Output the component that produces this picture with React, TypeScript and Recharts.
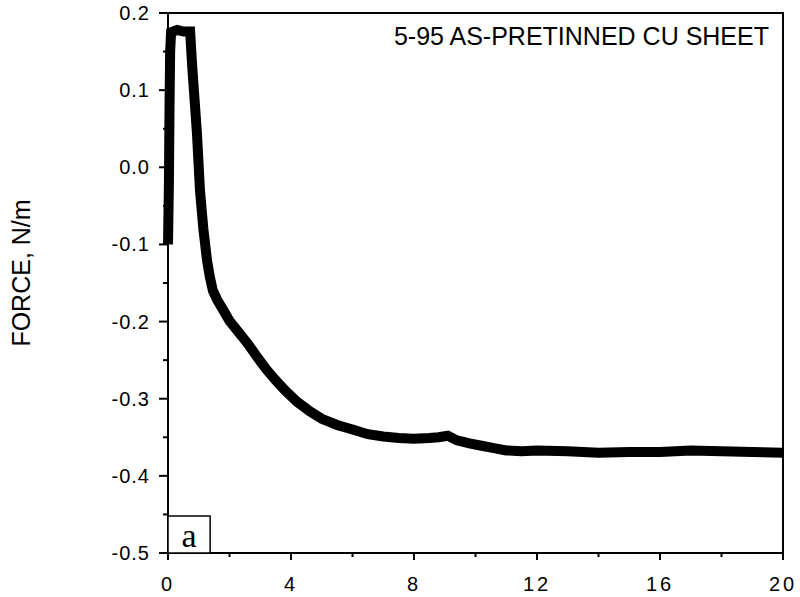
import { LineChart, Line, XAxis, YAxis, ReferenceArea } from "recharts";

const TIME = [
  0, 0.03, 0.05, 0.07, 0.1, 0.3, 0.5, 0.72, 0.78, 0.86, 0.94, 1.04, 1.15, 1.27, 1.36, 1.46,
  1.6, 1.75, 2.0, 2.3, 2.6, 2.9, 3.2, 3.5, 3.8, 4.2, 4.6, 5.0, 5.5, 6.0, 6.5, 7.0, 7.5, 8.0,
  8.5, 8.8, 9.1, 9.4, 9.8, 10.2, 10.6, 11.0, 11.5, 12, 13, 14, 15, 16, 17, 18, 19, 20,
];
const FORCE = [
  -0.1, -0.02, 0.08, 0.15, 0.175, 0.178, 0.176, 0.176, 0.135, 0.09, 0.045, -0.03, -0.08, -0.121, -0.142, -0.16,
  -0.172, -0.182, -0.199, -0.214, -0.229, -0.246, -0.262, -0.276, -0.289, -0.304, -0.316, -0.326, -0.334, -0.34, -0.346, -0.349, -0.351, -0.352,
  -0.351, -0.35, -0.348, -0.354, -0.358, -0.361, -0.364, -0.367, -0.368, -0.367, -0.368, -0.37, -0.369, -0.369, -0.367, -0.368, -0.369, -0.37,
];
const X_TICKS = [0, 2, 4, 6, 8, 10, 12, 14, 16, 18, 20];
const Y_TICKS = [-0.5, -0.45, -0.4, -0.35, -0.3, -0.25, -0.2, -0.15, -0.1, -0.05, 0, 0.05, 0.1, 0.15, 0.2];
const TITLE = "5-95 AS-PRETINNED CU SHEET";
const Y_LABEL = "FORCE, N/m";
const PANEL = "a";

const FONT = "'Liberation Sans', Arial, Helvetica, sans-serif";

const data = TIME.map((t, i) => ({ t, f: FORCE[i] }));

function XTick(props: any) {
  const { x, y, payload } = props;
  const major = payload.value % 4 === 0;
  return (
    <g>
      <line x1={x} y1={y} x2={x} y2={y + (major ? 7 : 4)} stroke="#000" strokeWidth={2} />
      {major && (
        <text x={x} y={y + 38} textAnchor="middle" style={{ fontSize: 20, fontFamily: FONT, letterSpacing: 3 }} fill="#000">
          {payload.value}
        </text>
      )}
    </g>
  );
}

function YTick(props: any) {
  const { x, y, payload } = props;
  const v = payload.value;
  const major = Math.abs(v * 10 - Math.round(v * 10)) < 1e-6;
  return (
    <g>
      <line x1={x} y1={y} x2={x - (major ? 9 : 5)} y2={y} stroke="#000" strokeWidth={2} />
      {major && (
        <text x={x - 18} y={y + 7} textAnchor="end" style={{ fontSize: 20, fontFamily: FONT, letterSpacing: 1 }} fill="#000">
          {v.toFixed(1)}
        </text>
      )}
    </g>
  );
}

function YLabel(props: any) {
  const vb = props.viewBox;
  const cx = vb.x + 30;
  const cy = vb.y + vb.height / 2 - 10;
  return (
    <text
      x={cx}
      y={cy}
      transform={`rotate(-90, ${cx}, ${cy})`}
      textAnchor="middle"
      style={{ fontSize: 25, fontFamily: FONT }}
      fill="#000"
    >
      {Y_LABEL}
    </text>
  );
}

export default function App() {
  return (
    <div style={{ position: "absolute", left: 0, top: 0, background: "#fff" }}>
      <LineChart width={800} height={597} data={data} margin={{ top: 13, right: 17, bottom: 0, left: 0 }}>
        <XAxis
          dataKey="t"
          type="number"
          domain={[0, 20]}
          ticks={X_TICKS}
          interval={0}
          height={44}
          axisLine={false}
          tickLine={false}
          tickSize={0}
          tickMargin={0}
          tick={<XTick />}
        />
        <YAxis
          type="number"
          domain={[-0.5, 0.2]}
          ticks={Y_TICKS}
          interval={0}
          width={168}
          axisLine={false}
          tickLine={false}
          tickSize={0}
          tickMargin={0}
          tick={<YTick />}
          label={{ content: YLabel }}
        />
        <ReferenceArea
          x1={0}
          x2={20}
          y1={-0.5}
          y2={0.2}
          fill="none"
          fillOpacity={0}
          stroke="#000"
          strokeWidth={2}
          strokeOpacity={1}
          label={{
            value: TITLE,
            position: "insideTopRight",
            offset: 14,
            fill: "#000",
            style: { fontSize: 25, fontFamily: FONT },
          }}
        />
        <ReferenceArea
          x1={0}
          x2={1.37}
          y1={-0.5}
          y2={-0.452}
          fill="#fff"
          fillOpacity={1}
          stroke="#000"
          strokeWidth={1.5}
          strokeOpacity={1}
          label={{
            value: PANEL,
            position: "center",
            fill: "#000",
            style: { fontSize: 34, fontFamily: "'Liberation Serif', 'Times New Roman', serif" },
          }}
        />
        <Line
          type="linear"
          dataKey="f"
          stroke="#000"
          strokeWidth={10}
          dot={false}
          isAnimationActive={false}
        />
      </LineChart>
    </div>
  );
}
